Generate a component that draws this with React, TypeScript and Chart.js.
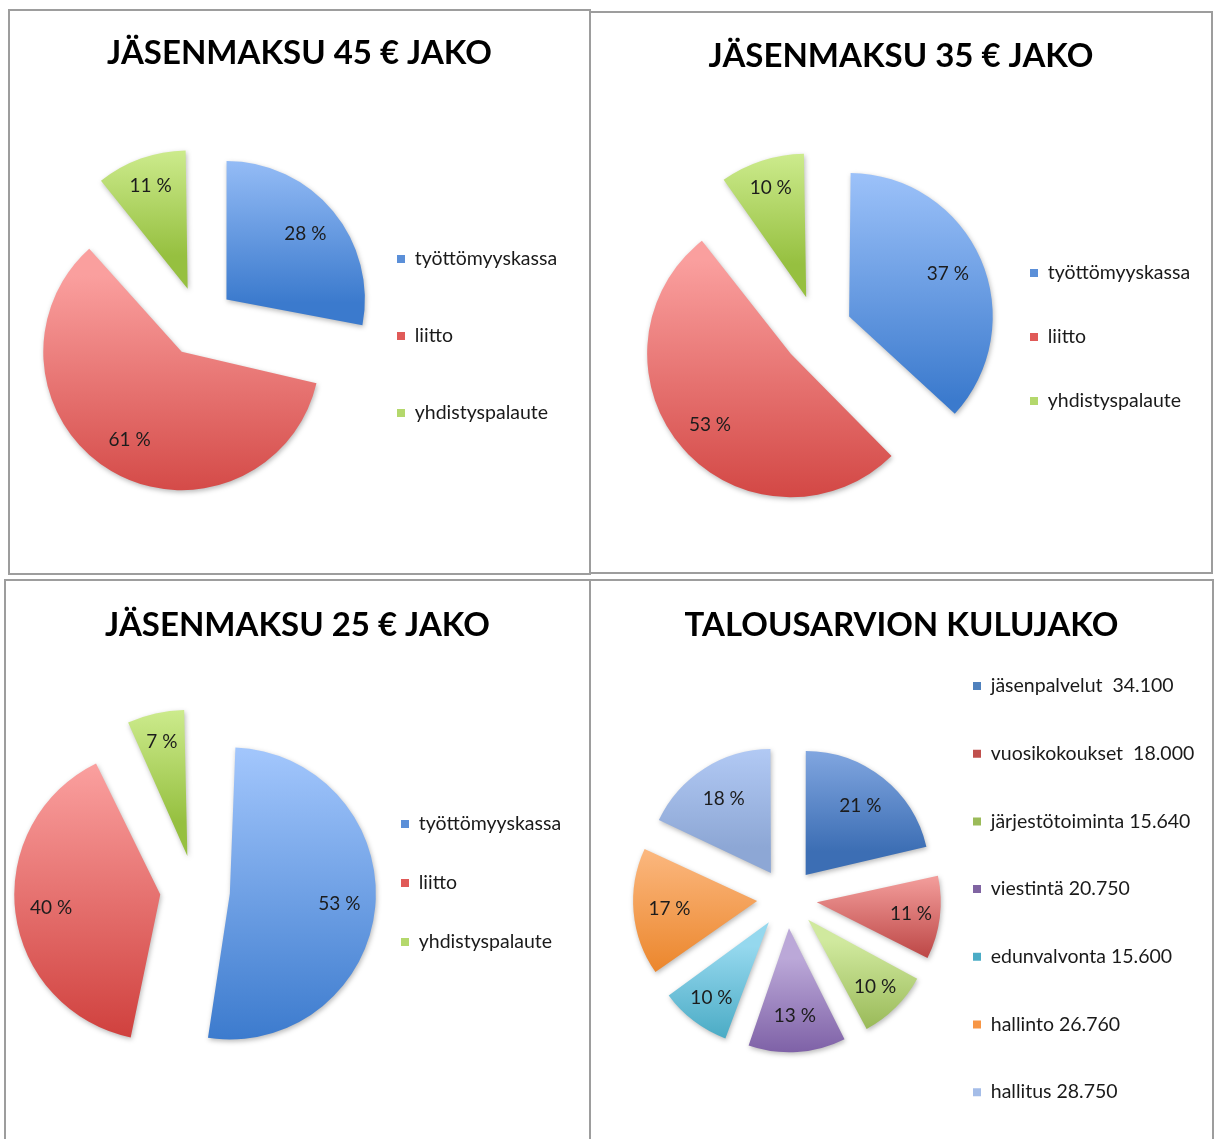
import React, { useEffect, useRef } from 'react';
import { Chart, registerables, layouts } from 'chart.js';

Chart.register(...registerables);

const FONT_FAMILY = 'Lato, "Open Sans", "DejaVu Sans", sans-serif';
const TITLE_SIZE = 33;
const LEGEND_SIZE = 19.5;
const LABEL_SIZE = 19;

// ---------- data ----------
const feeCategories = ['työttömyyskassa', 'liitto', 'yhdistyspalaute'];
const fee45Shares = [28, 61, 11];
const fee35Shares = [37, 53, 10];
const fee25Shares = [53, 40, 7];

const budgetCategories = [
  'jäsenpalvelut  34.100',
  'vuosikokoukset  18.000',
  'järjestötoiminta 15.640',
  'viestintä 20.750',
  'edunvalvonta 15.600',
  'hallinto 26.760',
  'hallitus 28.750',
];
const budgetAmounts = [34100, 18000, 15640, 20750, 15600, 26760, 28750];

const chartTitles = [
  'JÄSENMAKSU 45 € JAKO',
  'JÄSENMAKSU 35 € JAKO',
  'JÄSENMAKSU 25 € JAKO',
  'TALOUSARVION KULUJAKO',
];

// ---------- colours ----------
const feeLegendColors = ['#5b8fd8', '#e05a58', '#b4d86c'];
const feeTopColors = ['#a2c6fc', '#fa9f9e', '#ddf8a4'];
const feeBottomColors = ['#3b7acd', '#cf3f3c', '#96c040'];

const budgetLegendColors = ['#4f81bd', '#c0504d', '#9bbb59', '#8064a2', '#4bacc6', '#f79646', '#a5bde8'];
const budgetTopColors = ['#91b3ea', '#f29c9a', '#d0e99e', '#bba8d8', '#95d8ee', '#fbb77e', '#bbd2fc'];
const budgetBottomColors = ['#3c6eb4', '#b94140', '#8cae47', '#6b4b97', '#379fba', '#eb852a', '#8da7d5'];

// ---------- layout targets (page pixels) ----------
// frame: [left, top, width, height] of the bordered panel
const panelLayouts = [
  { frame: [8, 9, 583, 566], titleY: 53, pieX: 199.5, pieY: 321.6, boxX: 397, legendY: 336, spacing: 77, radius: 138.4, explode: 35 },
  { frame: [589, 11, 624, 563], titleY: 56, pieX: 817, pieY: 330.4, boxX: 1030, legendY: 337, spacing: 64, radius: 143.6, explode: 35 },
  { frame: [4, 579, 587, 580], titleY: 625, pieX: 195, pieY: 890, boxX: 401, legendY: 883, spacing: 59, radius: 146, explode: 35 },
  { frame: [589, 579, 625, 580], titleY: 625, pieX: 787, pieY: 898.3, boxX: 973, legendY: 889, spacing: 67.7, radius: 124, explode: 30 },
];

function sliceBox(arc: any, R: number, shift: number) {
  const s = arc.startAngle;
  const e = arc.endAngle;
  const mid = (s + e) / 2;
  const cx = arc.x + Math.cos(mid) * shift;
  const cy = arc.y + Math.sin(mid) * shift;
  const ys = [cy, cy + Math.sin(s) * R, cy + Math.sin(e) * R];
  const inRange = (a: number) => {
    for (let k = -2; k <= 2; k++) {
      const v = a + k * 2 * Math.PI;
      if (v >= s && v <= e) return true;
    }
    return false;
  };
  if (inRange(Math.PI / 2)) ys.push(cy + R);
  if (inRange(-Math.PI / 2)) ys.push(cy - R);
  return { cx, cy, mid, minY: Math.min(...ys), maxY: Math.max(...ys) };
}

function makeSliceStyler(tops: string[], bottoms: string[]) {
  return {
    id: 'sliceStyler',
    afterDatasetsUpdate(chart: any) {
      const meta = chart.getDatasetMeta(0);
      const R = meta.controller.outerRadius;
      meta.data.forEach((arc: any) => {
        const shift = (arc.options.offset || 0) / 4;
        const fix = 1 - Math.sin(Math.min(Math.PI, arc.circumference || 0));
        arc.outerRadius = Math.max(R - shift * fix, 0);
      });
    },
    beforeDatasetsDraw(chart: any) {
      const ctx = chart.ctx;
      const meta = chart.getDatasetMeta(0);
      const R = meta.controller.outerRadius;
      meta.data.forEach((arc: any, i: number) => {
        const shift = (arc.options.offset || 0) / 4;
        const b = sliceBox(arc, R, shift);
        const grad = ctx.createLinearGradient(0, b.minY, 0, b.maxY);
        grad.addColorStop(0, tops[i]);
        grad.addColorStop(1, bottoms[i]);
        arc.options = Object.assign({}, arc.options, { backgroundColor: grad });
      });
      ctx.save();
      ctx.shadowColor = 'rgba(0,0,0,0.28)';
      ctx.shadowBlur = 5;
      ctx.shadowOffsetX = 1;
      ctx.shadowOffsetY = 2;
    },
    afterDatasetsDraw(chart: any) {
      const ctx = chart.ctx;
      ctx.restore();
      const meta = chart.getDatasetMeta(0);
      const R = meta.controller.outerRadius;
      const values: number[] = chart.data.datasets[0].data;
      const total = values.reduce((a, b) => a + b, 0);
      ctx.save();
      ctx.font = `${LABEL_SIZE}px ${FONT_FAMILY}`;
      ctx.fillStyle = '#1c1c1c';
      ctx.textAlign = 'center';
      ctx.textBaseline = 'middle';
      meta.data.forEach((arc: any, i: number) => {
        const shift = (arc.options.offset || 0) / 4;
        const b = sliceBox(arc, R, shift);
        const inset = (arc.circumference || 0) < 0.75 ? 29 : 36;
        const dist = R - inset;
        const pct = Math.round((values[i] / total) * 100) + ' %';
        ctx.fillText(pct, b.cx + Math.cos(b.mid) * dist, b.cy + Math.sin(b.mid) * dist);
      });
      ctx.restore();
    },
  };
}

// empty layout box that moves the plot area sideways
function makeSpacer(size: number, position: 'left' | 'right') {
  const box: any = {
    position,
    weight: 0,
    fullSize: false,
    options: { display: false },
    left: 0, top: 0, right: 0, bottom: 0, width: 0, height: 0,
    isHorizontal() { return false; },
    update(_mw: number, mh: number) { this.width = size; this.height = mh; },
    draw() {},
  };
  return {
    id: 'pieSpacer',
    beforeInit(chart: any) { layouts.addBox(chart, box); },
  };
}

function legendNaturalWidth(labels: string[], gap: number) {
  const c = document.createElement('canvas').getContext('2d') as CanvasRenderingContext2D;
  c.font = `${LEGEND_SIZE}px ${FONT_FAMILY}`;
  const maxText = Math.max(...labels.map((l) => c.measureText(l).width));
  return gap + 8 + LEGEND_SIZE / 2 + maxText + 10;
}

type PieProps = {
  title: string;
  labels: string[];
  values: number[];
  legendColors: string[];
  tops: string[];
  bottoms: string[];
  layout: any;
};

function PiePanel({ title, labels, values, legendColors, tops, bottoms, layout }: PieProps) {
  const ref = useRef<HTMLCanvasElement>(null);
  const [fl, ft, fw, fh] = layout.frame;
  const cL = fl + 2;
  const cT = ft + 2;
  const W = fw - 4;
  const L = TITLE_SIZE * 1.2;
  const A = layout.titleY - L / 2;
  const padTop = A - cT;
  const bottomSpace = 2 * (layout.legendY - layout.pieY) + L;
  const B = 2 * layout.pieY - A - L + bottomSpace;
  const H = Math.round(B - cT);

  useEffect(() => {
    const gap = layout.spacing - LEGEND_SIZE;
    const wn = legendNaturalWidth(labels, gap);
    const X = layout.boxX - cL;
    const Px = layout.pieX - cL;
    const side = W - X + gap - wn;
    const d = 2 * Px - X + gap - side;
    const spacer = d >= 0 ? makeSpacer(d, 'left') : makeSpacer(-d, 'right');

    const chart = new Chart(ref.current as HTMLCanvasElement, {
      type: 'pie',
      data: {
        labels,
        datasets: [
          {
            data: values,
            backgroundColor: legendColors,
            borderWidth: 0,
            offset: layout.explode * 4,
            hoverOffset: 0,
            radius: layout.radius,
            clip: false,
          } as any,
        ],
      },
      options: {
        responsive: false,
        animation: false,
        devicePixelRatio: 1,
        events: [],
        layout: { padding: { top: padTop, left: side, right: side, bottom: 0 } },
        plugins: {
          title: {
            display: true,
            text: title,
            color: '#000000',
            font: { family: FONT_FAMILY, size: TITLE_SIZE, weight: 'bold', lineHeight: 1.2 },
            padding: 0,
          },
          subtitle: {
            display: true,
            position: 'bottom',
            text: '',
            font: { size: 1, lineHeight: 1 },
            padding: { top: bottomSpace - 1, bottom: 0 },
          },
          legend: {
            position: 'right',
            labels: {
              boxWidth: 8,
              boxHeight: 8,
              padding: gap,
              color: '#1a1a1a',
              font: { family: FONT_FAMILY, size: LEGEND_SIZE },
            },
          },
          tooltip: { enabled: false },
        },
      } as any,
      plugins: [spacer, makeSliceStyler(tops, bottoms)],
    });
    return () => chart.destroy();
  }, []);

  return (
    <>
      <div
        style={{
          position: 'absolute',
          left: fl,
          top: ft,
          width: fw,
          height: fh,
          boxSizing: 'border-box',
          border: '2px solid #9d9d9d',
        }}
      />
      <canvas ref={ref} width={W} height={H} style={{ position: 'absolute', left: cL, top: cT, width: W, height: H }} />
    </>
  );
}

export default function App() {
  return (
    <div style={{ position: 'fixed', left: 0, top: 0, right: 0, bottom: 0, overflow: 'hidden', background: '#ffffff' }}>
      <PiePanel title={chartTitles[0]} labels={feeCategories} values={fee45Shares} legendColors={feeLegendColors} tops={feeTopColors} bottoms={feeBottomColors} layout={panelLayouts[0]} />
      <PiePanel title={chartTitles[1]} labels={feeCategories} values={fee35Shares} legendColors={feeLegendColors} tops={feeTopColors} bottoms={feeBottomColors} layout={panelLayouts[1]} />
      <PiePanel title={chartTitles[2]} labels={feeCategories} values={fee25Shares} legendColors={feeLegendColors} tops={feeTopColors} bottoms={feeBottomColors} layout={panelLayouts[2]} />
      <PiePanel title={chartTitles[3]} labels={budgetCategories} values={budgetAmounts} legendColors={budgetLegendColors} tops={budgetTopColors} bottoms={budgetBottomColors} layout={panelLayouts[3]} />
    </div>
  );
}
